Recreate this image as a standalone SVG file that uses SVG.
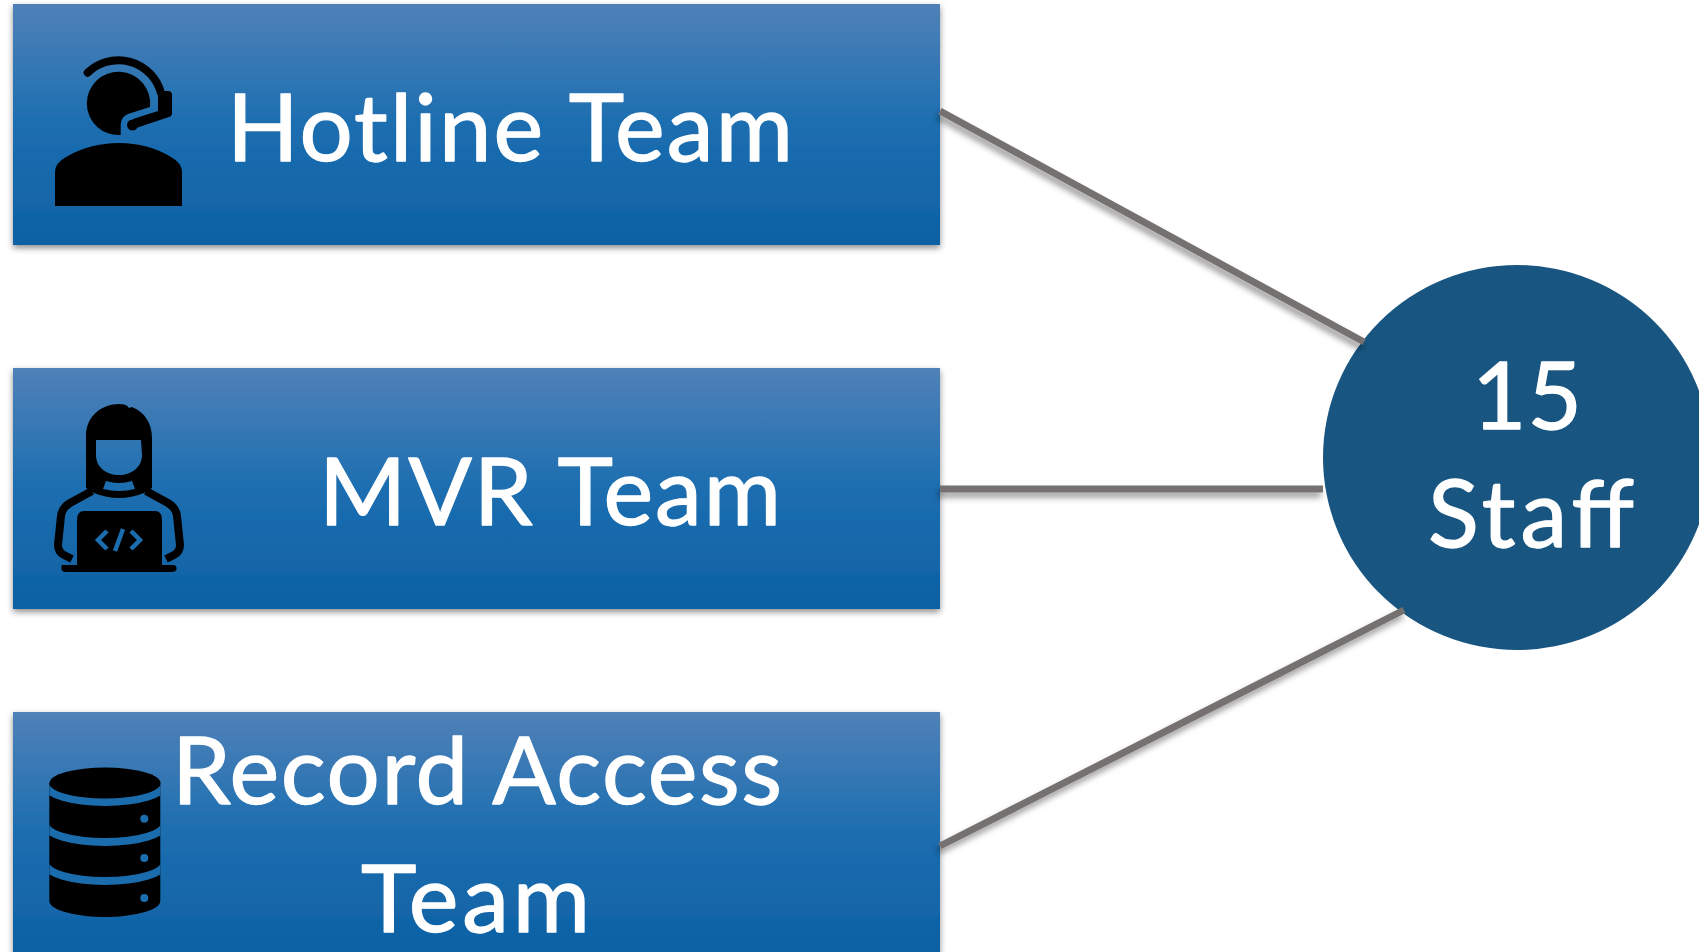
<svg xmlns="http://www.w3.org/2000/svg" width="1699" height="952" viewBox="0 0 1699 952">
<style>
.box{fill:url(#g);filter:url(#s)}
.t{font-family:"Lato","Open Sans","Liberation Sans",sans-serif;font-size:94px;fill:#fff;stroke:#fff;stroke-width:1.300;stroke-linejoin:round}
.c{stroke:#767171;stroke-width:7;fill:none;filter:url(#ls)}
.band{fill:none;stroke:#1a6cad;stroke-width:8}
.blue{fill:#1b6dae}
.code{fill:none;stroke:#1b6dae;stroke-width:4.500}
.arm{fill:none;stroke:#000;stroke-width:8;stroke-linejoin:round}
</style>
<defs>
<linearGradient id="g" x1="0" y1="0" x2="0" y2="1"><stop offset="0" stop-color="#4f81b8"/><stop offset=".5" stop-color="#1c6eb0"/><stop offset="1" stop-color="#0d61a4"/></linearGradient>
<filter id="s" x="-3%" y="-10%" width="106%" height="125%"><feDropShadow dx="0" dy="3" stdDeviation="3" flood-color="#000" flood-opacity=".45"/></filter>
<filter id="ls" filterUnits="userSpaceOnUse" x="900" y="60" width="560" height="840"><feDropShadow dx="-2" dy="5" stdDeviation="3" flood-color="#000" flood-opacity=".4"/></filter>
<clipPath id="db"><rect x="49.300" y="760" width="111" height="170"/></clipPath>
</defs>
<rect width="1699" height="952" fill="#fff"/>
<g id="node-hotline">
<rect class="box" x="13" y="4" width="927" height="241"/>
<path d="M55,206V172Q55,163 66,157Q90,143 119,143Q148,143 171,157Q182,163 182,172V206Z"/>
<path d="M120.700,135A31.700,31.700 0 1 1 150,107L128,114Q120.700,117 120.700,125Z"/>
<path d="M87.700,72.700A44,44 0 0 1 161,93" fill="none" stroke="#000" stroke-width="8" stroke-linecap="round"/>
<path d="M158,91H168Q172,91 172,95V113Q172,116 169,117L136,128L133,119L158,111Z"/>
<circle cx="132.500" cy="125" r="5.500"/>
<text class="t" x="227" y="161" textLength="566">Hotline Team</text>
</g>
<g id="node-mvr">
<rect class="box" x="13" y="368" width="927" height="241"/>
<path fill-rule="evenodd" d="M86,488V436C86,416 102,404 119,404Q127,404 129,408L132,407C145,412 152,424 152,438V488L144,493Q119,503 94,493ZM96,440H141L142,455C142,467 132,475 119,475C106,475 96,467 96,455ZM106,481Q119,485 132,481L135,489Q119,493 103,489Z"/>
<path class="arm" d="M92,491L70,503Q62,508 61,516L58,545Q58,552 64,555L72,559"/>
<path class="arm" d="M146,491L168,503Q176,508 177,516L180,545Q180,552 174,555L166,559"/>
<path d="M77,520Q77,511 84,511H155Q162,511 162,520V565H173Q176.500,565 176.500,568V569Q176.500,572 171,572H66Q61.500,572 61.500,569V565H77Z"/>
<path class="code" d="M107,531L98,540L107,549M131,531L140,540L131,549M123,529L115,551"/>
<text class="t" x="319" y="525" textLength="462">MVR Team</text>
</g>
<g id="node-records">
<rect class="box" x="13" y="712" width="927" height="241"/>
<path d="M49.300,783H160.300V901C160.300,911 130,917 105,917C80,917 49.300,911 49.300,901Z"/>
<g clip-path="url(#db)">
<path class="band" d="M45,784A60,18 0 0 0 165,784"/>
<path class="band" d="M45,824A60,18 0 0 0 165,824"/>
<path class="band" d="M45,863A60,18 0 0 0 165,863"/>
</g>
<ellipse cx="105" cy="783" rx="55.500" ry="15.500"/>
<circle class="blue" cx="144.300" cy="818.700" r="4"/>
<circle class="blue" cx="144.300" cy="858" r="4"/>
<circle class="blue" cx="144.300" cy="898" r="4"/>
<text class="t" x="172" y="804" textLength="610">Record Access</text>
<text class="t" x="361" y="932" textLength="229">Team</text>
</g>
<g id="node-staff">
<ellipse cx="1517" cy="457.500" rx="194" ry="192.500" fill="#185580"/>
<text class="t" x="1472" y="429" textLength="110">15</text>
<text class="t" x="1428" y="547" textLength="206">Staff</text>
</g>
<g id="connectors">
<path class="c" d="M940,111L1364,342"/>
<path class="c" d="M940,489H1323"/>
<path class="c" d="M940,846L1404,610"/>
</g>
</svg>
